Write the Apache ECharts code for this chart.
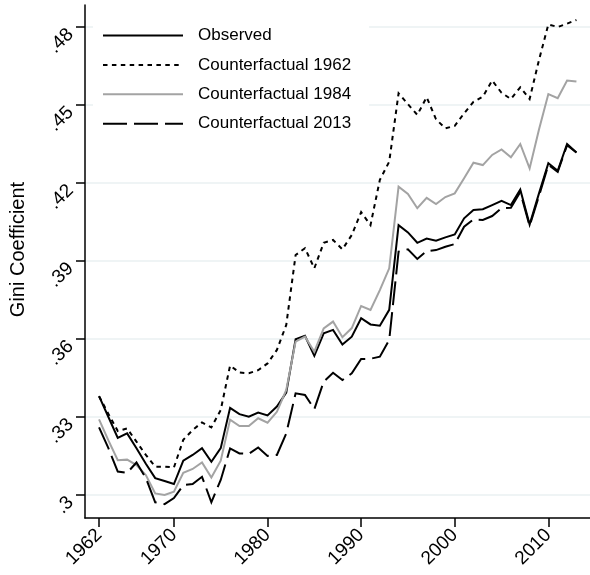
<!DOCTYPE html>
<html>
<head>
<meta charset="utf-8">
<script src="https://cdn.jsdelivr.net/npm/echarts@6/dist/echarts.min.js"></script>
<style>
  html, body { margin: 0; padding: 0; background: #ffffff; }
  #chart { width: 590px; height: 575px; }
</style>
</head>
<body>
<div id="chart"></div>
<script>
// Years covered by the series
const years = [
  1962, 1963, 1964, 1965, 1966, 1967, 1968, 1969, 1970, 1971,
  1972, 1973, 1974, 1975, 1976, 1977, 1978, 1979, 1980, 1981,
  1982, 1983, 1984, 1985, 1986, 1987, 1988, 1989, 1990, 1991,
  1992, 1993, 1994, 1995, 1996, 1997, 1998, 1999, 2000, 2001,
  2002, 2003, 2004, 2005, 2006, 2007, 2008, 2009, 2010, 2011,
  2012, 2013
];

// Gini coefficient, observed
const observed = [
  0.3380, 0.3300, 0.3220, 0.3237, 0.3180, 0.3120, 0.3065, 0.3054, 0.3042, 0.3132,
  0.3154, 0.3180, 0.3128, 0.3180, 0.3335, 0.3311, 0.3301, 0.3317, 0.3306, 0.3340,
  0.3394, 0.3599, 0.3612, 0.3535, 0.3622, 0.3635, 0.3579, 0.3609, 0.3680, 0.3656,
  0.3651, 0.3712, 0.4038, 0.4010, 0.3970, 0.3986, 0.3978, 0.3991, 0.4002, 0.4064,
  0.4096, 0.4099, 0.4115, 0.4131, 0.4115, 0.4175, 0.4040, 0.4160, 0.4276, 0.4247,
  0.4350, 0.4317
];

// Counterfactual holding 1962 structure
const cf1962 = [
  0.3380, 0.3312, 0.3246, 0.3256, 0.3205, 0.3154, 0.3109, 0.3109, 0.3106, 0.3212,
  0.3250, 0.3279, 0.3260, 0.3327, 0.3498, 0.3471, 0.3468, 0.3480, 0.3506, 0.3558,
  0.3654, 0.3923, 0.3949, 0.3872, 0.3970, 0.3981, 0.3945, 0.4000, 0.4088, 0.4038,
  0.4212, 0.4282, 0.4545, 0.4503, 0.4462, 0.4530, 0.4445, 0.4410, 0.4420, 0.4468,
  0.4512, 0.4532, 0.4594, 0.4547, 0.4523, 0.4568, 0.4523, 0.4673, 0.4810, 0.4800,
  0.4813, 0.4827
];

// Counterfactual holding 1984 structure
const cf1984 = [
  0.3291, 0.3210, 0.3134, 0.3136, 0.3115, 0.3077, 0.3006, 0.3000, 0.3013, 0.3085,
  0.3100, 0.3125, 0.3067, 0.3132, 0.3290, 0.3265, 0.3265, 0.3295, 0.3278, 0.3320,
  0.3404, 0.3590, 0.3609, 0.3551, 0.3641, 0.3667, 0.3607, 0.3642, 0.3727, 0.3712,
  0.3788, 0.3872, 0.4186, 0.4158, 0.4103, 0.4143, 0.4119, 0.4146, 0.4160, 0.4218,
  0.4278, 0.4269, 0.4308, 0.4329, 0.4299, 0.4350, 0.4256, 0.4406, 0.4542, 0.4526,
  0.4594, 0.4590
];

// Counterfactual holding 2013 structure
const cf2013 = [
  0.3260, 0.3180, 0.3090, 0.3085, 0.3125, 0.3065, 0.2972, 0.2965, 0.2988, 0.3038,
  0.3042, 0.3070, 0.2972, 0.3058, 0.3179, 0.3160, 0.3158, 0.3183, 0.3150, 0.3154,
  0.3237, 0.3391, 0.3385, 0.3330, 0.3436, 0.3470, 0.3442, 0.3468, 0.3523, 0.3524,
  0.3532, 0.3596, 0.3936, 0.3945, 0.3908, 0.3938, 0.3942, 0.3955, 0.3965, 0.4032,
  0.4060, 0.4058, 0.4073, 0.4103, 0.4105, 0.4165, 0.4035, 0.4150, 0.4270, 0.4243,
  0.4345, 0.4317
];

// Axis ticks and their labels
const xTicks = [1962, 1970, 1980, 1990, 2000, 2010];
const yTicks = [0.30, 0.33, 0.36, 0.39, 0.42, 0.45, 0.48];
const yTickLabels = ['.3', '.33', '.36', '.39', '.42', '.45', '.48'];

const seriesNames = ['Observed', 'Counterfactual 1962', 'Counterfactual 1984', 'Counterfactual 2013'];

const FONT = "'Liberation Sans', Arial, Helvetica, sans-serif";

function pairs(vals) {
  return years.map((y, i) => [y, vals[i]]);
}

function lineSeries(name, vals, color, type) {
  return {
    name: name,
    type: 'line',
    data: pairs(vals),
    showSymbol: false,
    symbol: 'none',
    smooth: false,
    lineStyle: { color: color, width: 2, type: type, cap: 'butt', join: 'miter' },
    itemStyle: { color: color },
    emphasis: { disabled: true }
  };
}

const chart = echarts.init(document.getElementById('chart'), null, { renderer: 'canvas' });

chart.setOption({
  animation: false,
  backgroundColor: '#ffffff',
  textStyle: { fontFamily: FONT },
  grid: { left: 85, right: 0, top: 5, bottom: 57, containLabel: false },
  xAxis: {
    type: 'value',
    min: 1960.5,
    max: 2014.45,
    axisLine: { show: true, onZero: false, lineStyle: { color: '#000', width: 1.5 } },
    axisTick: { show: true, length: 9, customValues: xTicks, lineStyle: { color: '#000', width: 1.5 } },
    axisLabel: {
      customValues: xTicks,
      rotate: 45,
      margin: 14,
      fontSize: 19,
      color: '#000',
      fontFamily: FONT,
      formatter: function (v) { return String(v); }
    },
    splitLine: { show: false }
  },
  yAxis: {
    type: 'value',
    min: 0.29115,
    max: 0.48846,
    name: 'Gini Coefficient',
    nameLocation: 'middle',
    nameGap: 57,
    nameTextStyle: { fontSize: 20, color: '#000', fontFamily: FONT, padding: [0, 0, 0, 24] },
    axisLine: { show: true, onZero: false, lineStyle: { color: '#000', width: 1.5 } },
    axisTick: { show: true, length: 9, customValues: yTicks, lineStyle: { color: '#000', width: 1.5 } },
    axisLabel: {
      customValues: yTicks,
      rotate: 45,
      margin: 19,
      verticalAlign: 'top',
      lineHeight: 13,
      fontSize: 19,
      color: '#000',
      fontFamily: FONT,
      formatter: function (v) {
        const i = yTicks.findIndex(t => Math.abs(t - v) < 1e-9);
        return i >= 0 ? yTickLabels[i] : '';
      }
    },
    splitLine: { show: true, lineStyle: { color: '#eaf0f2', width: 1.5 } }
  },
  legend: {
    data: seriesNames,
    orient: 'vertical',
    left: 93,
    top: 17,
    padding: [10, 18, 10, 9],
    backgroundColor: '#ffffff',
    itemWidth: 80,
    itemHeight: 12,
    itemGap: 12.4,
    selectedMode: false,
    itemStyle: { opacity: 0 },
    textStyle: { fontSize: 17, color: '#000', fontFamily: FONT, lineHeight: 17, padding: [0, 0, 0, 10] }
  },
  series: [
    lineSeries(seriesNames[0], observed, '#000000', 'solid'),
    lineSeries(seriesNames[1], cf1962, '#000000', [4.5, 4.4]),
    lineSeries(seriesNames[2], cf1984, '#a3a3a3', 'solid'),
    lineSeries(seriesNames[3], cf2013, '#000000', [24, 7])
  ]
});
</script>
</body>
</html>
